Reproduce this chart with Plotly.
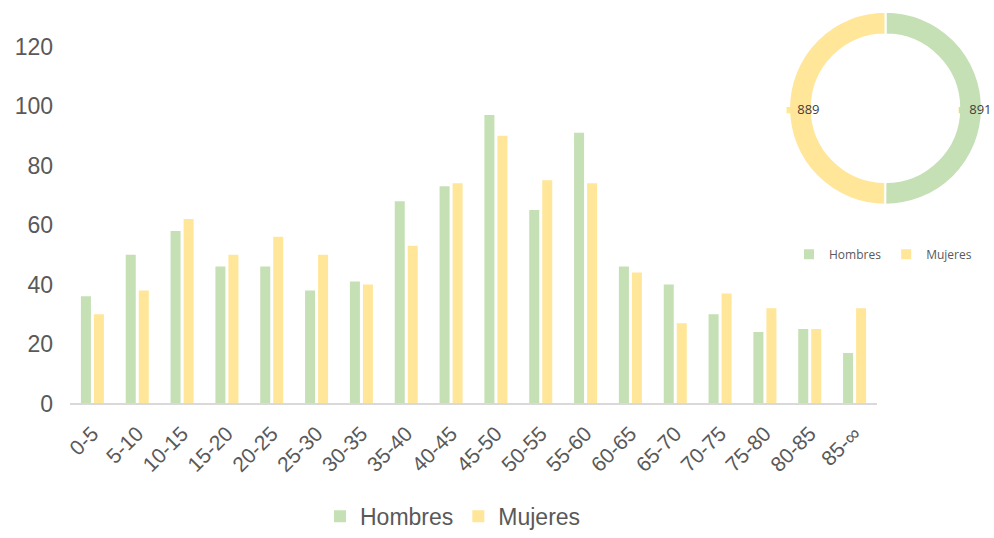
import plotly.graph_objects as go

categorias = ["0-5", "5-10", "10-15", "15-20", "20-25", "25-30", "30-35", "35-40",
              "40-45", "45-50", "50-55", "55-60", "60-65", "65-70", "70-75", "75-80",
              "80-85", "85-∞"]
hombres = [36, 50, 58, 46, 46, 38, 41, 68, 73, 97, 65, 91, 46, 40, 30, 24, 25, 17]
mujeres = [30, 38, 62, 50, 56, 50, 40, 53, 74, 90, 75, 74, 44, 27, 37, 32, 25, 32]
series = ["Hombres", "Mujeres"]
totales = [sum(hombres), sum(mujeres)]
y_ticks = [0, 20, 40, 60, 80, 100, 120]

VERDE = "#C5E0B4"
AMARILLO = "#FFE699"
GRIS = "#595959"

W, H = 994, 538


def fx(px):
    return px / W


def fy(py):
    return 1 - py / H


fig = go.Figure()
fig.add_trace(go.Bar(x=categorias, y=hombres, name=series[0], marker_color=VERDE,
                     marker_line_width=0, legend="legend"))
fig.add_trace(go.Bar(x=categorias, y=mujeres, name=series[1], marker_color=AMARILLO,
                     marker_line_width=0, legend="legend"))

# donut
cx, cy, r = 885.5, 109.5, 97.5
fig.add_trace(go.Pie(labels=series, values=totales, hole=0.765, sort=False,
                     direction="clockwise", rotation=0,
                     marker=dict(colors=[VERDE, AMARILLO], line=dict(color="white", width=2)),
                     textinfo="none", hoverinfo="label+value",
                     domain=dict(x=[fx(cx - r), fx(cx + r)], y=[fy(cy + r), fy(cy - r)]),
                     legend="legend2", showlegend=True))

label_pos = [(956, 110), (784, 110)]
colores = [VERDE, AMARILLO]
for (px, py), val, col in zip(label_pos, totales, colores):
    fig.add_annotation(x=fx(px), y=fy(py), xref="paper", yref="paper",
                       xanchor="left", yanchor="middle", showarrow=False,
                       text=f"<span style='color:{col}'>■</span> {val}",
                       font=dict(family="Open Sans", size=13, color="#404040"))

fig.update_layout(
    width=W, height=H,
    margin=dict(l=0, r=0, t=0, b=0),
    template="none",
    plot_bgcolor="white", paper_bgcolor="white",
    barmode="group", bargap=0.42, bargroupgap=0.23,
    xaxis=dict(domain=[fx(70), fx(877)], showline=True, linecolor="#D9D9D9", linewidth=1.5,
               showgrid=False, zeroline=False, tickangle=-45, ticks="",
               tickfont=dict(family="Liberation Sans", size=21, color=GRIS),
               ticklabelstandoff=8, automargin=False),
    yaxis=dict(domain=[fy(408), fy(47)], range=[0, 120], tickvals=y_ticks,
               showline=False, showgrid=False, zeroline=False, ticks="",
               tickfont=dict(family="Liberation Sans", size=23, color=GRIS),
               ticklabelstandoff=16, automargin=False),
    legend=dict(orientation="h", x=fx(453), y=fy(522), xanchor="center", yanchor="middle",
                font=dict(family="Liberation Sans", size=23, color=GRIS),
                itemwidth=30, tracegroupgap=0, bgcolor="rgba(0,0,0,0)"),
    legend2=dict(orientation="h", x=fx(883), y=fy(257), xanchor="center", yanchor="middle",
                 font=dict(family="Open Sans", size=12, color=GRIS),
                 itemwidth=30, bgcolor="rgba(0,0,0,0)"),
    showlegend=True,
)

fig.write_html("out.html", config={"displayModeBar": False},
               post_script="document.body.style.margin='0';document.body.style.overflow='hidden';")
